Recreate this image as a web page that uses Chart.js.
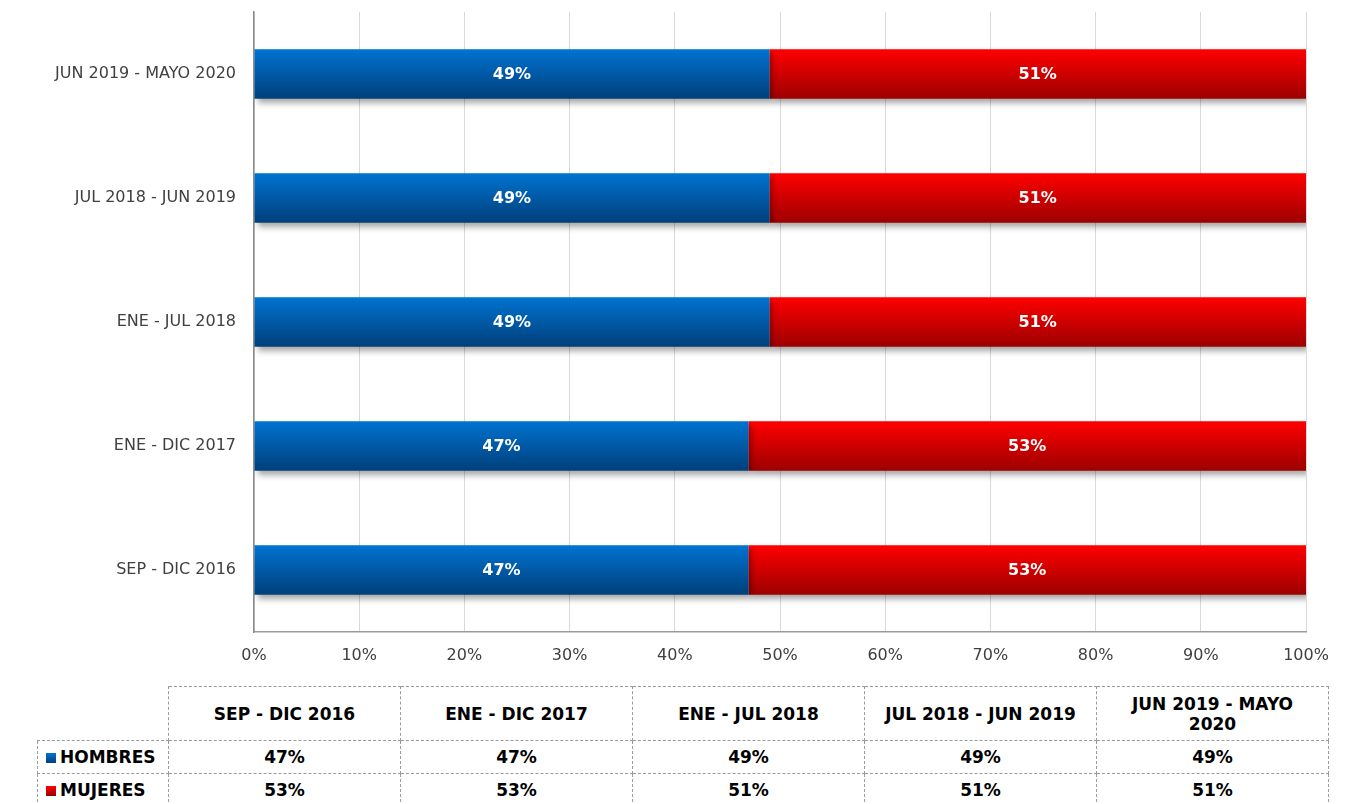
<!DOCTYPE html>
<html>
<head>
<meta charset="utf-8">
<script src="https://cdn.jsdelivr.net/npm/chart.js@4/dist/chart.umd.min.js"></script>
<style>
    html, body { margin: 0; padding: 0; background: #fff; }
    body { width: 1363px; height: 804px; position: relative; overflow: hidden;
           font-family: "Century Gothic", "DejaVu Sans", sans-serif; }
    #wrap { position: absolute; left: 0; top: 0; width: 1363px; height: 680px; }
    #dataTable { position: absolute; left: 37px; top: 686px; width: 1291px;
                 border-collapse: collapse; table-layout: fixed; color: #000;
                 font-weight: bold; font-size: 17px; }
    #dataTable td { border: 1px dashed #9a9a9a; text-align: center; padding: 0 12px; }
    #dataTable tr.head td { height: 53px; line-height: 20px; }
    #dataTable tr.row td { height: 32px; }
    #dataTable td.corner { border-top: none; border-left: none; }
    #dataTable td.key { text-align: left; padding: 0 0 0 8px; white-space: nowrap; }
    .swatch { display: inline-block; width: 10px; height: 10px; margin-right: 4px; vertical-align: 0px; }
</style>
</head>
<body>
<div id="wrap"><canvas id="chart" width="1363" height="680"></canvas></div>
<table id="dataTable"></table>

<script>
/* ---------- DATA ---------- */
const categories = ["SEP - DIC 2016", "ENE - DIC 2017", "ENE - JUL 2018", "JUL 2018 - JUN 2019", "JUN 2019 - MAYO 2020"];
const hombres = [47, 47, 49, 49, 49];
const mujeres = [53, 53, 51, 51, 51];
const seriesNames = ["HOMBRES", "MUJERES"];
const xTicks = [0, 10, 20, 30, 40, 50, 60, 70, 80, 90, 100];

const BLUE = ["#0073d1", "#003f7a"];
const RED = ["#ff0000", "#9c0000"];

/* ---------- DATA TABLE ---------- */
function buildTable() {
    const t = document.getElementById("dataTable");
    let html = '<colgroup><col style="width:131px">' +
        categories.map(() => '<col style="width:232px">').join("") + '</colgroup>';
    html += '<tr class="head"><td class="corner"></td>' +
        categories.map(c => "<td>" + c + "</td>").join("") + "</tr>";
    const rows = [[seriesNames[0], hombres, BLUE], [seriesNames[1], mujeres, RED]];
    rows.forEach(([name, vals, col]) => {
        html += '<tr class="row"><td class="key"><span class="swatch" style="background:linear-gradient(' +
            col[0] + "," + col[1] + ')"></span>' + name + "</td>" +
            vals.map(v => "<td>" + v + "%</td>").join("") + "</tr>";
    });
    t.innerHTML = html;
}
buildTable();

/* ---------- GRADIENT PER BAR ---------- */
function barGradient(colors) {
    return ctx => {
        const chart = ctx.chart;
        const yScale = chart.scales && chart.scales.y;
        if (!yScale || ctx.dataIndex === undefined) return colors[0];
        const c = yScale.getPixelForValue(ctx.dataIndex);
        const half = yScale.height / categories.length * 0.4 / 2;
        if (!isFinite(c) || !isFinite(half) || half <= 0) return colors[0];
        const g = chart.ctx.createLinearGradient(0, c - half, 0, c + half);
        g.addColorStop(0, colors[0]);
        g.addColorStop(1, colors[1]);
        return g;
    };
}

/* ---------- SHADOW + LABELS ---------- */
const barDecor = {
    id: "barDecor",
    beforeDatasetsDraw(chart) {
        const ctx = chart.ctx;
        ctx.save();
        ctx.shadowColor = "rgba(0,0,0,0.35)";
        ctx.shadowBlur = 6;
        ctx.shadowOffsetX = 3;
        ctx.shadowOffsetY = 4;
    },
    afterDatasetsDraw(chart) {
        const ctx = chart.ctx;
        ctx.restore();
        ctx.save();
        ctx.fillStyle = "#fff";
        ctx.font = 'bold 16px "Century Gothic", "DejaVu Sans", sans-serif';
        ctx.textAlign = "center";
        ctx.textBaseline = "middle";
        chart.data.datasets.forEach((ds, di) => {
            chart.getDatasetMeta(di).data.forEach((el, i) => {
                const p = el.getCenterPoint();
                ctx.fillText(ds.data[i] + "%", p.x, p.y + 1);
            });
        });
        ctx.restore();
    }
};

/* ---------- CHART ---------- */
const tickFont = { family: '"Century Gothic", "DejaVu Sans", sans-serif', size: 16 };

const chart = new Chart(document.getElementById("chart"), {
    type: "bar",
    data: {
        labels: categories,
        datasets: [
            { label: seriesNames[0], data: hombres, backgroundColor: barGradient(BLUE),
              categoryPercentage: 0.4, barPercentage: 1.0 },
            { label: seriesNames[1], data: mujeres, backgroundColor: barGradient(RED),
              categoryPercentage: 0.4, barPercentage: 1.0 }
        ]
    },
    options: {
        indexAxis: "y",
        responsive: false,
        animation: false,
        layout: { padding: { top: 12, right: 57, bottom: 0, left: 0 } },
        plugins: {
            legend: { display: false },
            tooltip: { enabled: false }
        },
        scales: {
            x: {
                stacked: true,
                min: 0,
                max: 100,
                afterFit(s) { s.height = 48; },
                afterBuildTicks(s) { s.ticks = xTicks.map(v => ({ value: v })); },
                grid: { color: "#d9d9d9", drawTicks: false },
                border: { color: "#9a9a9a", width: 1.5 },
                ticks: { color: "#404040", font: tickFont, padding: 14,
                         callback: v => v + "%" }
            },
            y: {
                stacked: true,
                reverse: true,
                afterFit(s) {
                    s.width = 254;
                    s.paddingTop = 0;
                    s.paddingBottom = 0;
                },
                grid: { display: false, drawTicks: false },
                border: { color: "#8a8a8a", width: 1.5 },
                ticks: { color: "#404040", font: tickFont, padding: 18 }
            }
        }
    },
    plugins: [barDecor]
});
// re-run once the scales exist so each bar gets its own gradient
chart.update();
</script>
</body>
</html>
